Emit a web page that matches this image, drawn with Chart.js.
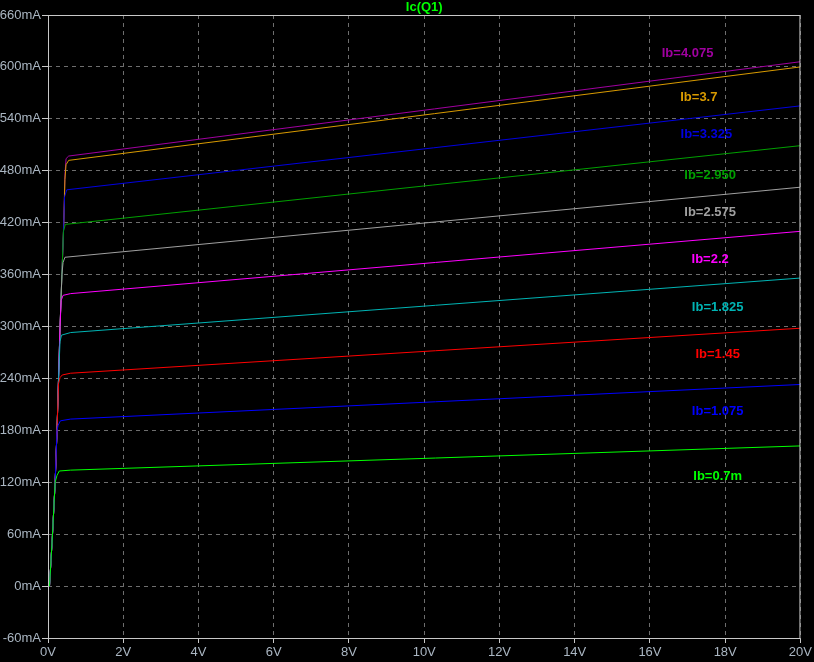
<!DOCTYPE html>
<html>
<head>
<meta charset="utf-8">
<script src="https://cdn.jsdelivr.net/npm/chart.js@4.4.1/dist/chart.umd.min.js"></script>
<style>
  html, body { margin: 0; padding: 0; background: #000; }
  #wrap { width: 814px; height: 662px; }
</style>
</head>
<body>
<div id="wrap"><canvas id="ic"></canvas></div>
<script>
/* ── Données (V, mA) ───────────────────────────────────────────── */
const ibLabels = ['Ib=0.7m', 'Ib=1.075', 'Ib=1.45', 'Ib=1.825', 'Ib=2.2',
                  'Ib=2.575', 'Ib=2.950', 'Ib=3.325', 'Ib=3.7', 'Ib=4.075'];

const vce = {
    ib07:  [0, 0.04, 0.12, 0.19, 0.24, 0.30, 0.6, 20],
    ib107: [0, 0.04, 0.12, 0.19, 0.24, 0.27, 0.33, 0.6, 20],
    ib145: [0, 0.04, 0.12, 0.19, 0.24, 0.28, 0.32, 0.38, 0.6, 20],
    ib182: [0, 0.04, 0.12, 0.19, 0.24, 0.28, 0.32, 0.36, 0.6, 20],
    ib22:  [0, 0.04, 0.12, 0.19, 0.24, 0.28, 0.32, 0.35, 0.40, 0.6, 20],
    ib257: [0, 0.04, 0.12, 0.19, 0.24, 0.28, 0.32, 0.37, 0.40, 0.45, 20],
    ib295: [0, 0.04, 0.12, 0.19, 0.24, 0.28, 0.32, 0.37, 0.41, 0.46, 20],
    ib332: [0, 0.04, 0.12, 0.19, 0.24, 0.28, 0.32, 0.37, 0.42, 0.44, 0.50, 20],
    ib37:  [0, 0.04, 0.12, 0.19, 0.24, 0.28, 0.32, 0.37, 0.42, 0.45, 0.48, 0.55, 20],
    ib407: [0, 0.04, 0.12, 0.19, 0.24, 0.28, 0.32, 0.37, 0.42, 0.45, 0.48, 0.55, 20]
};

const ic = {
    ib07:  [0, 0, 60, 120, 128, 133, 134, 162],
    ib107: [0, 0, 60, 120, 180, 186, 191, 193, 233],
    ib145: [0, 0, 60, 120, 180, 234, 241, 244, 246, 298],
    ib182: [0, 0, 60, 120, 180, 240, 283, 290, 293, 356],
    ib22:  [0, 0, 60, 120, 180, 240, 300, 330, 336, 338, 410],
    ib257: [0, 0, 60, 120, 180, 240, 300, 360, 374, 380, 461],
    ib295: [0, 0, 60, 120, 180, 240, 300, 360, 410, 418, 509],
    ib332: [0, 0, 60, 120, 180, 240, 300, 360, 420, 450, 458, 555],
    ib37:  [0, 0, 60, 120, 180, 240, 300, 360, 420, 470, 487, 492, 600],
    ib407: [0, 0, 60, 120, 180, 240, 300, 360, 420, 475, 494, 497, 606]
};

const curveKeys = ['ib07', 'ib107', 'ib145', 'ib182', 'ib22',
                   'ib257', 'ib295', 'ib332', 'ib37', 'ib407'];

/* Ancrage des étiquettes (V, mA) */
const labelV  = [17.8, 17.8, 17.8, 17.8, 17.6, 17.6, 17.6, 17.5, 17.3, 17.0];
const labelMA = [127, 202, 268, 322, 377, 432, 475, 522, 565, 616];

const xTicks = [0, 2, 4, 6, 8, 10, 12, 14, 16, 18, 20];
const yTicks = [-60, 0, 60, 120, 180, 240, 300, 360, 420, 480, 540, 600, 660];

/* ── Couleurs façon LTspice ────────────────────────────────────── */
const colors = ['#00ff00', '#0000ff', '#ff0000', '#00b4b4', '#ff00ff',
                '#a0a0a0', '#00a000', '#0000e0', '#d89a00', '#a000a0'];

const TICK_COLOR = '#aab6c2';
const FRAME = '#c8c8c8';
const FONT = '"Liberation Sans", Arial, sans-serif';

const datasets = curveKeys.map((k, i) => ({
    label: ibLabels[i],
    data: vce[k].map((v, j) => ({ x: v, y: ic[k][j] })),
    borderColor: colors[i],
    borderWidth: 1,
    pointRadius: 0,
    tension: 0,
    fill: false
}));

/* Étiquettes Ib, titre et cadre */
const decorPlugin = {
    id: 'decor',
    afterDatasetsDraw(chart) {
        const { ctx, chartArea: a, scales: { x, y } } = chart;
        ctx.save();
        ctx.font = 'bold 13px ' + FONT;
        ctx.textAlign = 'center';
        ctx.textBaseline = 'middle';
        ibLabels.forEach((t, i) => {
            ctx.fillStyle = colors[i];
            ctx.fillText(t, x.getPixelForValue(labelV[i]), y.getPixelForValue(labelMA[i]));
        });
        // cadre
        ctx.strokeStyle = FRAME;
        ctx.lineWidth = 1;
        ctx.strokeRect(a.left + 0.5, a.top + 0.5, a.right - a.left - 1, a.bottom - a.top);
        // titre
        ctx.fillStyle = '#00ff00';
        ctx.font = 'bold 13px ' + FONT;
        ctx.textBaseline = 'alphabetic';
        ctx.fillText('Ic(Q1)', (a.left + a.right) / 2, 11);
        ctx.restore();
    }
};

new Chart(document.getElementById('ic'), {
    type: 'line',
    data: { datasets },
    plugins: [decorPlugin],
    options: {
        responsive: true,
        maintainAspectRatio: false,
        animation: false,
        layout: { padding: { top: 15, right: 11, left: 0, bottom: 0 } },
        plugins: { legend: { display: false }, tooltip: { enabled: false } },
        scales: {
            x: {
                type: 'linear',
                min: 0, max: 20,
                afterBuildTicks: s => { s.ticks = xTicks.map(v => ({ value: v })); },
                afterFit: s => { s.height = 24; },
                grid: {
                    color: '#6e6e6e', lineWidth: 1,
                    tickColor: FRAME, tickLength: 5, drawTicks: true
                },
                border: { display: false, dash: [4, 4] },
                ticks: {
                    color: TICK_COLOR, padding: 2, maxRotation: 0,
                    font: { family: 'Liberation Sans', size: 13 },
                    callback: v => v + 'V'
                }
            },
            y: {
                type: 'linear',
                min: -60, max: 660,
                afterBuildTicks: s => { s.ticks = yTicks.map(v => ({ value: v })); },
                afterFit: s => { s.width = 48; },
                grid: {
                    color: '#6e6e6e', lineWidth: 1,
                    tickColor: FRAME, tickLength: 6
                },
                border: { display: false, dash: [4, 4] },
                ticks: {
                    color: TICK_COLOR, padding: 1,
                    font: { family: 'Liberation Sans', size: 13 },
                    callback: v => v + 'mA'
                }
            }
        }
    }
});
</script>
</body>
</html>
